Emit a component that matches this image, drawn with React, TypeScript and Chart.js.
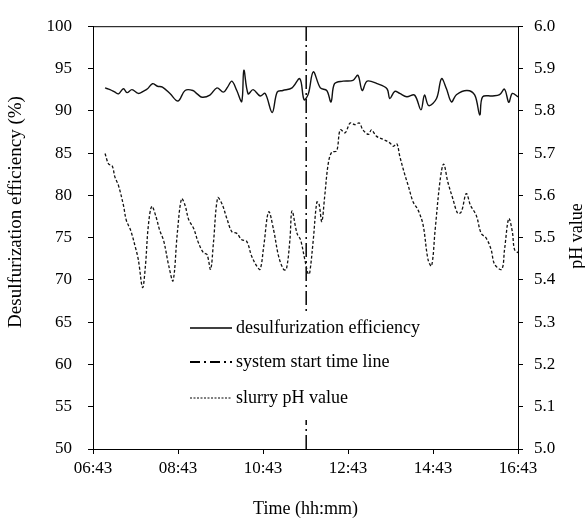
import React, { useEffect, useRef } from "react";
import { Chart, registerables } from "chart.js";

Chart.register(...registerables);

// minutes after 06:43
const xTickLabels = ["06:43", "08:43", "10:43", "12:43", "14:43", "16:43"];
const xTickStep = 120;
const xMax = 600;

const effTime = [17, 24, 31, 36, 43, 48, 55, 64, 71, 77, 84, 91, 98, 109, 120, 130, 141, 147, 154, 165, 175, 184, 190, 196, 203, 210, 213, 219, 226, 236, 243, 253, 260, 268, 281, 292, 298, 304, 311, 321, 330, 336, 341, 353, 367, 374, 380, 387, 401, 415, 419, 426, 433, 443, 454, 463, 468, 474, 485, 492, 499, 506, 513, 528, 539, 546, 550, 564, 574, 581, 587, 592, 600];
const effValues = [92.7, 92.5, 92.2, 92.0, 92.6, 92.15, 92.5, 92.05, 92.3, 92.6, 93.2, 92.9, 92.8, 92.0, 91.15, 92.4, 92.4, 92.0, 91.6, 91.85, 92.7, 92.2, 92.8, 93.5, 92.4, 91.1, 94.8, 92.0, 92.5, 91.75, 92.05, 89.8, 92.2, 92.4, 92.7, 93.8, 91.3, 92.0, 94.6, 92.7, 92.4, 91.05, 93.2, 93.5, 93.6, 94.2, 92.4, 93.5, 93.2, 92.6, 91.45, 92.3, 92.05, 91.65, 91.85, 90.1, 91.85, 90.6, 91.45, 93.8, 92.6, 91.05, 91.9, 92.4, 91.85, 89.5, 91.65, 91.75, 91.9, 92.55, 91.0, 92.05, 91.65];

const phTime = [17, 22, 27, 31, 36, 43, 47, 53, 60, 64, 70, 74, 78, 83, 89, 94, 100, 107, 113, 119, 125, 130, 135, 142, 149, 156, 161, 166, 170, 176, 182, 189, 196, 203, 210, 217, 224, 231, 236, 241, 248, 255, 262, 269, 273, 278, 281, 288, 293, 299, 304, 306, 311, 316, 319, 323, 327, 332, 337, 344, 349, 356, 363, 370, 376, 381, 389, 393, 400, 410, 419, 424, 429, 433, 440, 445, 452, 459, 466, 473, 478, 483, 490, 495, 501, 508, 515, 520, 527, 533, 541, 548, 555, 562, 567, 577, 581, 587, 592, 595, 600];
const phValues = [5.699, 5.674, 5.670, 5.643, 5.623, 5.576, 5.541, 5.518, 5.476, 5.448, 5.382, 5.433, 5.526, 5.574, 5.549, 5.518, 5.491, 5.433, 5.398, 5.510, 5.592, 5.576, 5.543, 5.522, 5.487, 5.464, 5.460, 5.425, 5.487, 5.594, 5.580, 5.545, 5.514, 5.510, 5.495, 5.491, 5.456, 5.433, 5.425, 5.479, 5.561, 5.518, 5.456, 5.425, 5.425, 5.495, 5.563, 5.510, 5.495, 5.448, 5.413, 5.417, 5.495, 5.584, 5.580, 5.538, 5.596, 5.674, 5.702, 5.705, 5.755, 5.748, 5.771, 5.767, 5.771, 5.755, 5.744, 5.755, 5.740, 5.732, 5.724, 5.716, 5.722, 5.693, 5.650, 5.623, 5.584, 5.565, 5.530, 5.448, 5.433, 5.518, 5.635, 5.674, 5.631, 5.592, 5.557, 5.561, 5.604, 5.576, 5.553, 5.510, 5.499, 5.472, 5.437, 5.425, 5.472, 5.545, 5.514, 5.472, 5.464];

const startTime = 301;
const effRange = [50, 100];
const phRange = [5.0, 6.0];

const effLabel = "desulfurization efficiency";
const phLabel = "slurry pH value";
const startLabel = "system start time line";
const xTitle = "Time (hh:mm)";
const yTitle = "Desulfurization efficiency (%)";
const y1Title = "pH value";

const FONT = "'Liberation Serif', 'Times New Roman', serif";

const framePlugin = {
  id: "frameAndText",
  afterDraw(chart: any) {
    const { ctx, chartArea } = chart;
    const { left, right, top } = chartArea;
    ctx.save();
    // top border
    ctx.strokeStyle = "#000";
    ctx.lineWidth = 1;
    ctx.beginPath();
    ctx.moveTo(left, top + 0.5);
    ctx.lineTo(right, top + 0.5);
    ctx.stroke();

    // legend box (opaque, covers the start line)
    ctx.fillStyle = "#fff";
    ctx.fillRect(186, 314, 240, 106);

    const dsets = chart.data.datasets;
    const rows = [328, 362, 398];
    const order = [0, 2, 1];
    ctx.font = `18px ${FONT}`;
    ctx.fillStyle = "#000";
    ctx.textBaseline = "middle";
    ctx.textAlign = "left";
    order.forEach((di, i) => {
      const ds = dsets[di];
      const y = rows[i];
      ctx.save();
      ctx.strokeStyle = "#000";
      ctx.lineWidth = di === 1 ? 1 : di === 2 ? 2 : ds.borderWidth;
      ctx.setLineDash(di === 1 ? [2, 1.5] : di === 2 ? [10, 4, 2, 4] : []);
      ctx.beginPath();
      ctx.moveTo(190, y);
      ctx.lineTo(232, y);
      ctx.stroke();
      ctx.restore();
      ctx.fillText(ds.label, 236, y);
    });

    // axis titles
    ctx.textAlign = "center";
    ctx.font = `18px ${FONT}`;
    ctx.fillText(xTitle, (left + right) / 2, 509);
    ctx.save();
    ctx.font = `19px ${FONT}`;
    ctx.translate(16, 212);
    ctx.rotate(-Math.PI / 2);
    ctx.fillText(yTitle, 0, 0);
    ctx.restore();
    ctx.save();
    ctx.translate(577, 236);
    ctx.rotate(-Math.PI / 2);
    ctx.fillText(y1Title, 0, 0);
    ctx.restore();
    ctx.restore();
  },
};

export default function App() {
  const ref = useRef<HTMLCanvasElement>(null);
  useEffect(() => {
    if (!ref.current) return;
    const tickFont = { family: FONT, size: 17 };
    const gridOpts = {
      display: true,
      drawOnChartArea: false,
      drawTicks: true,
      tickLength: 5,
      color: "#000",
    };
    const chart = new Chart(ref.current, {
      type: "line",
      data: {
        datasets: [
          {
            label: effLabel,
            data: effTime.map((t, i) => ({ x: t, y: effValues[i] })),
            borderColor: "#111",
            borderWidth: 1.4,
            pointRadius: 0,
            tension: 0.35,
            yAxisID: "y",
          },
          {
            label: phLabel,
            data: phTime.map((t, i) => ({ x: t, y: phValues[i] })),
            borderColor: "#111",
            borderWidth: 1.3,
            borderDash: [3, 2],
            pointRadius: 0,
            tension: 0.35,
            yAxisID: "y1",
          },
          {
            label: startLabel,
            data: [
              { x: startTime, y: effRange[0] },
              { x: startTime, y: effRange[1] },
            ],
            borderColor: "#111",
            borderWidth: 1.6,
            borderDash: [14, 4, 2, 4],
            pointRadius: 0,
            yAxisID: "y",
          },
        ],
      },
      options: {
        responsive: false,
        animation: false,
        devicePixelRatio: 1,
        layout: { padding: { top: 20, left: 0, right: 0, bottom: 0 } },
        plugins: { legend: { display: false }, tooltip: { enabled: false } },
        scales: {
          x: {
            type: "linear",
            min: 0,
            max: xMax,
            afterFit: (s: any) => {
              s.height = 72;
            },
            afterBuildTicks: (s: any) => {
              s.ticks = xTickLabels.map((_, i) => ({ value: i * xTickStep }));
            },
            ticks: {
              font: tickFont,
              color: "#000",
              padding: 4,
              maxRotation: 0,
              autoSkip: false,
              callback: (v: any) => xTickLabels[Math.round(Number(v) / xTickStep)],
            },
            grid: gridOpts,
            border: { display: true, color: "#000", width: 1 },
          },
          y: {
            type: "linear",
            position: "left",
            min: effRange[0],
            max: effRange[1],
            afterFit: (s: any) => {
              s.width = 93;
            },
            ticks: { font: tickFont, color: "#000", stepSize: 5, padding: 16 },
            grid: gridOpts,
            border: { display: true, color: "#000", width: 1 },
          },
          y1: {
            type: "linear",
            position: "right",
            min: phRange[0],
            max: phRange[1],
            afterFit: (s: any) => {
              s.width = 67;
            },
            ticks: {
              font: tickFont,
              color: "#000",
              stepSize: 0.1,
              padding: 11,
              callback: (v: any) => Number(v).toFixed(1),
            },
            grid: gridOpts,
            border: { display: true, color: "#000", width: 1 },
          },
        },
      },
      plugins: [framePlugin],
    } as any);
    return () => chart.destroy();
  }, []);
  return (
    <div style={{ position: "absolute", left: 0, top: 0, width: 585, height: 521, background: "#fff" }}>
      <canvas ref={ref} width={585} height={521} style={{ display: "block" }} />
    </div>
  );
}
